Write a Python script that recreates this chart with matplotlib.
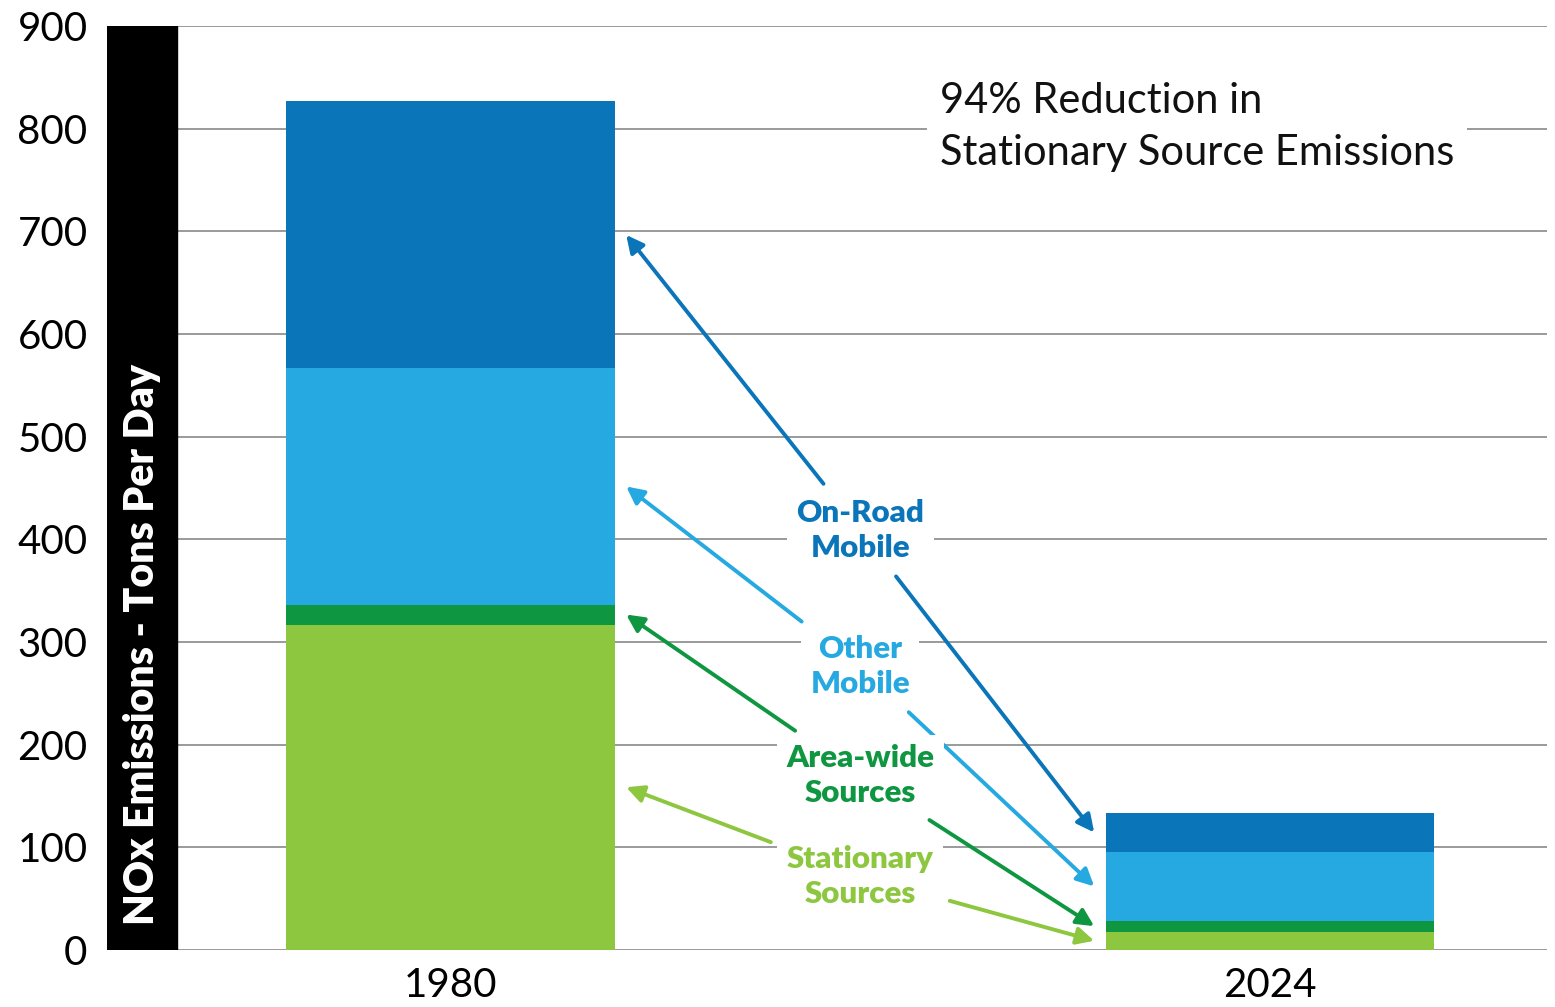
import numpy as np
import matplotlib
matplotlib.use('Agg')
import matplotlib.pyplot as plt

# data (tons per day)
years = ['1980', '2024']
stationary = [317, 18]
area_wide = [19.5, 10.5]
other_mobile = [230, 67]
on_road = [260, 38]

categories = ['Stationary\nSources', 'Area-wide\nSources', 'Other\nMobile', 'On-Road\nMobile']
colors = ['#8DC63F', '#0E9640', '#25A9E0', '#0B75BA']
label_y = [72, 170, 276, 409]

plt.rcParams['font.family'] = ['Lato', 'DejaVu Sans']

fig = plt.figure(figsize=(15.55, 10.07), dpi=100)
ax = fig.add_axes([107 / 1555, 57 / 1007, 1440 / 1555, 924 / 1007])

x = np.arange(len(years))
width = 0.401
series = [stationary, area_wide, other_mobile, on_road]

bottom = np.zeros(len(years))
mids = []
for vals, col in zip(series, colors):
    vals = np.array(vals, dtype=float)
    ax.bar(x, vals, width, bottom=bottom, color=col, zorder=2)
    mids.append(bottom + vals / 2)
    bottom = bottom + vals

ax.set_xlim(-0.419, 1.338)
ax.set_ylim(0, 900)

# black band behind the y label
band = 0.0855
ax.axvspan(-0.419, -0.419 + band, color='black', zorder=4)
ax.text(-0.419 + band / 2, 24, 'NOx Emissions - Tons Per Day', rotation=90,
        color='white', fontsize=29.5, fontweight='heavy', ha='center', va='bottom',
        zorder=5)

ax.set_yticks(np.arange(0, 901, 100))
ax.tick_params(axis='y', length=0, pad=14, labelsize=29)
ax.tick_params(axis='x', length=0, pad=12, labelsize=29)
ax.set_xticks(x)
ax.set_xticklabels(years)
ax.grid(axis='y', color='#9a9a9a', linewidth=1.4, zorder=0)
ax.set_axisbelow(True)
for s in ax.spines.values():
    s.set_visible(False)

# labels with arrows pointing to both bars
off = 0.014
for cat, col, ly, m in zip(categories, colors, label_y, mids):
    ax.annotate(cat, xy=(0 + width / 2 + off, m[0]), xytext=(0.5, ly),
                ha='center', va='center', color=col, fontsize=22.5, fontweight='heavy',
                linespacing=1.3,
                bbox=dict(boxstyle='square,pad=0.3', fc='white', ec='none'),
                arrowprops=dict(arrowstyle='-|>', color=col, lw=2.8,
                                mutation_scale=26, shrinkA=5, shrinkB=0),
                zorder=6)
    ax.annotate(cat, xy=(1 - width / 2 - off, m[1]), xytext=(0.5, ly),
                ha='center', va='center', color='none', fontsize=22.5, fontweight='heavy',
                linespacing=1.3,
                bbox=dict(boxstyle='square,pad=0.3', fc='none', ec='none'),
                arrowprops=dict(arrowstyle='-|>', color=col, lw=2.8,
                                mutation_scale=26, shrinkA=5, shrinkB=0),
                zorder=3)

ax.text(0.597, 802, '94% Reduction in\nStationary Source Emissions', fontsize=30,
        ha='left', va='center', linespacing=1.45, color='#111111',
        bbox=dict(boxstyle='square,pad=0.3', fc='white', ec='none'), zorder=3)

fig.savefig('out.png', dpi=100)
